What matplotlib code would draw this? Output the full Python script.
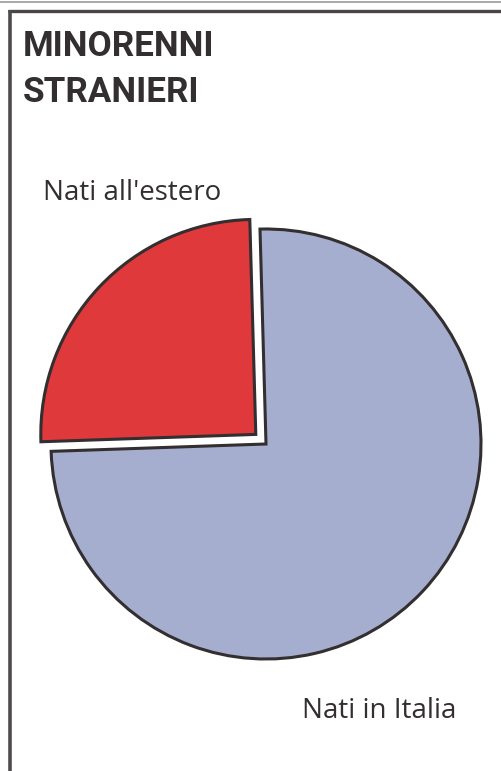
import matplotlib
matplotlib.use("Agg")
import matplotlib.pyplot as plt
from matplotlib.lines import Line2D

# ---- data ----
labels = ["Nati all'estero", "Nati in Italia"]
shares = [25.1, 74.9]
colors = ["#e0393c", "#a6aecf"]
title_lines = ["MINORENNI", "STRANIERI"]

W, H = 502, 771
ink = "#332e2f"

fig = plt.figure(figsize=(W / 100, H / 100), dpi=100)
ax = fig.add_axes([0, 0, 1, 1])
ax.set_xlim(0, W)
ax.set_ylim(0, H)
ax.set_aspect("equal")
ax.axis("off")

# ---- pie ----
ax.pie(shares, colors=colors, startangle=91.6, counterclock=True,
       center=(266, H - 444), radius=215, explode=[14, 0],
       wedgeprops=dict(edgecolor=ink, linewidth=2.2, joinstyle="miter"))
ax.set_xlim(0, W)
ax.set_ylim(0, H)

# ---- labels ----
ax.text(43, H - 200, labels[0], fontsize=20, family="Open Sans", fontweight=500,
        color=ink, ha="left", va="baseline")
ax.text(302, H - 718, labels[1], fontsize=20, family="Open Sans", fontweight=500,
        color=ink, ha="left", va="baseline")

# ---- title ----
for i, line in enumerate(title_lines):
    ax.text(23, H - (56 + i * 46), line, fontsize=25.2, fontweight="bold",
            family=["Roboto", "DejaVu Sans"],
            color=ink, ha="left", va="baseline")

# ---- frame ----
fig.add_artist(Line2D([0, 1], [1 - 1.5 / H] * 2, color="#9a9a9a", lw=1.2))
fig.add_artist(Line2D([8 / W, 1], [1 - 11 / H] * 2, color="#4a4445", lw=2.4,
                      solid_capstyle="butt"))
fig.add_artist(Line2D([9.5 / W] * 2, [0, 1 - 10 / H], color="#4f4a4b", lw=2.6,
                      solid_capstyle="butt"))

fig.savefig("out.png", dpi=100)
